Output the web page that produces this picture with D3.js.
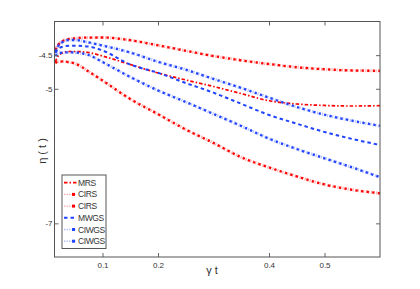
<!DOCTYPE html>
<html>
<head>
<meta charset="utf-8">
<script src="https://cdn.jsdelivr.net/npm/d3@7"></script>
<style>
  body { margin: 0; background: #fff; }
  text { font-family: "Liberation Sans", Arial, sans-serif; fill: #333; }
</style>
</head>
<body>
<div id="chart"></div>
<script>
// time samples (gamma t)
var tVals = [0.015, 0.02, 0.03, 0.04, 0.05, 0.075, 0.1, 0.15, 0.2, 0.25, 0.3, 0.35, 0.4, 0.45, 0.5, 0.55, 0.6]

var mrs    = [-4.602, -4.513, -4.461, -4.446, -4.446, -4.461, -4.513, -4.639, -4.765, -4.869, -4.966, -5.071, -5.178, -5.226, -5.248, -5.256, -5.251]
var cirsA  = [-4.423, -4.349, -4.282, -4.260, -4.250, -4.239, -4.238, -4.278, -4.354, -4.435, -4.513, -4.577, -4.632, -4.680, -4.710, -4.728, -4.733]
var cirsB  = [-4.617, -4.597, -4.594, -4.606, -4.624, -4.743, -4.877, -5.152, -5.377, -5.605, -5.805, -6.018, -6.169, -6.303, -6.422, -6.501, -6.553]
var mwgs   = [-4.468, -4.409, -4.371, -4.361, -4.360, -4.371, -4.431, -4.639, -4.762, -4.914, -5.058, -5.223, -5.389, -5.519, -5.642, -5.746, -5.835]
var ciwgsA = [-4.453, -4.364, -4.297, -4.275, -4.275, -4.312, -4.357, -4.461, -4.599, -4.716, -4.854, -4.988, -5.132, -5.270, -5.386, -5.475, -5.552]
var ciwgsB = [-4.513, -4.475, -4.461, -4.458, -4.461, -4.498, -4.602, -4.825, -5.025, -5.196, -5.374, -5.553, -5.741, -5.895, -6.033, -6.169, -6.315]

var xTicks = [0.1, 0.2, 0.4, 0.5]
var yTicks = [-4.5, -5, -7]

var legendNames = ["MRS", "CIRS", "CIRS", "MWGS", "CIWGS", "CIWGS"]

const W = 420, H = 289
const padL = 54.5, padR = 380, padT = 21.5, padB = 257

var red = "#ff0000", blue = "#2244ff"

// style of each series, same order as legendNames
var series = [
  { vals: mrs,    color: red,  kind: "dashdot" },
  { vals: cirsA,  color: red,  kind: "dots" },
  { vals: cirsB,  color: red,  kind: "dots" },
  { vals: mwgs,   color: blue, kind: "dash" },
  { vals: ciwgsA, color: blue, kind: "dots" },
  { vals: ciwgsB, color: blue, kind: "dots" }
]

const svg = d3.select("#chart").append("svg")
  .attr("width", W)
  .attr("height", H)

var x = d3.scaleLinear().domain([0.0135, 0.6]).range([padL, padR])
var y = d3.scaleLinear().domain([-7.5, -4]).range([padB, padT])

var line = d3.line()
  .x(function(d) { return x(d[0]) })
  .y(function(d) { return y(d[1]) })
  .curve(d3.curveMonotoneX)

function drawSeries(g, s, path) {
  if (s.kind == "dots") {
    // faint dotted line under the markers
    g.append("path").attr("d", path)
      .attr("fill", "none")
      .attr("stroke", s.color)
      .attr("stroke-opacity", 0.3)
      .attr("stroke-width", 3.2)
      .attr("stroke-dasharray", "1.2,1.4")
    g.append("path").attr("d", path)
      .attr("fill", "none")
      .attr("stroke", s.color)
      .attr("stroke-width", 2.3)
      .attr("stroke-dasharray", "2.3,3.3")
  } else if (s.kind == "dash") {
    g.append("path").attr("d", path)
      .attr("fill", "none")
      .attr("stroke", s.color)
      .attr("stroke-width", 2)
      .attr("stroke-dasharray", "3.5,3")
  } else {
    g.append("path").attr("d", path)
      .attr("fill", "none")
      .attr("stroke", s.color)
      .attr("stroke-width", 1.7)
      .attr("stroke-dasharray", "3.5,2,1.5,2")
  }
}

// curves
var plot = svg.append("g")
series.forEach(function(s) {
  var pts = tVals.map(function(t, i) { return [t, s.vals[i]] })
  drawSeries(plot, s, line(pts))
})

// axes, ticks inside
var axL = svg.append("g").attr("transform", "translate(" + padL + ",0)")
  .call(d3.axisLeft(y).tickValues(yTicks).tickSize(-4).tickPadding(2).tickFormat(function(d) { return String(d) }))
var axR = svg.append("g").attr("transform", "translate(" + padR + ",0)")
  .call(d3.axisRight(y).tickValues(yTicks).tickSize(-4).tickFormat(""))
var axB = svg.append("g").attr("transform", "translate(0," + padB + ")")
  .call(d3.axisBottom(x).tickValues(xTicks).tickSize(-4).tickPadding(5).tickFormat(function(d) { return String(d) }))
var axT = svg.append("g").attr("transform", "translate(0," + padT + ")")
  .call(d3.axisTop(x).tickValues(xTicks).tickSize(-4).tickFormat(""))

svg.selectAll(".domain").remove()
svg.selectAll(".tick line").attr("stroke", "#666")
svg.selectAll(".tick text").attr("font-size", 8).style("fill", "#333")

svg.append("rect")
  .attr("x", padL).attr("y", padT)
  .attr("width", padR - padL).attr("height", padB - padT)
  .attr("fill", "none")
  .attr("stroke", "#555")
  .attr("stroke-width", 1)

// axis labels
svg.append("text")
  .attr("x", 212).attr("y", 274)
  .attr("text-anchor", "middle")
  .attr("font-size", 11)
  .text("γ t")

svg.append("text")
  .attr("transform", "translate(46,151) rotate(-90)")
  .attr("text-anchor", "middle")
  .attr("font-size", 11)
  .text("η ( t )")

// legend
var lg = svg.append("g")
lg.append("rect")
  .attr("x", 62).attr("y", 175)
  .attr("width", 44).attr("height", 73.5)
  .attr("fill", "#fff")
  .attr("stroke", "#555")
  .attr("stroke-width", 1)

legendNames.forEach(function(name, i) {
  var yy = 182.7 + i * 11.7
  var s = series[i]
  var g = lg.append("g")
  if (s.kind == "dots") {
    g.append("path").attr("d", "M64," + yy + "L77," + yy)
      .attr("stroke", s.color).attr("stroke-opacity", 0.4)
      .attr("stroke-width", 1.4).attr("stroke-dasharray", "1.2,1.4")
    g.append("rect").attr("x", 72).attr("y", yy - 1.5).attr("width", 3).attr("height", 3).attr("fill", s.color)
  } else {
    drawSeries(g, s, "M64," + yy + "L77," + yy)
  }
  g.append("text")
    .attr("x", 78).attr("y", yy + 3)
    .attr("font-size", 8.5)
    .attr("letter-spacing", -0.4)
    .text(name)
})
</script>
</body>
</html>
